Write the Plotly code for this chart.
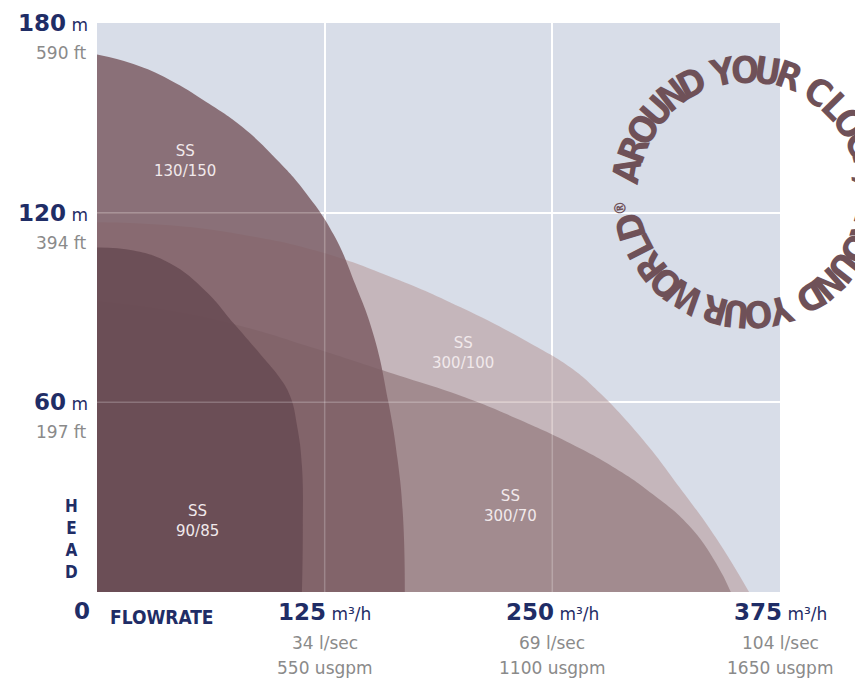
import math

import plotly.graph_objects as go

# Pump envelopes: flowrate in m3/h, head in m.
SS300_100_FLOW = [0, 40, 80, 120, 160, 200, 240, 260, 276, 300, 320, 340, 358]
SS300_100_HEAD = [117, 116, 113, 108, 100, 90, 78, 71, 63, 48, 33, 17, 0]

SS300_70_FLOW = [0, 40, 80, 120, 160, 200, 230, 260, 285, 305, 325, 340, 348]
SS300_70_HEAD = [92, 89, 84, 77, 69.5, 62, 55, 47, 39, 31, 21, 9, 0]

SS130_150_FLOW = [0, 20, 40, 60, 80, 100, 115, 130, 142, 152, 160, 165, 168, 169]
SS130_150_HEAD = [170, 167, 162, 155, 147, 136, 126, 113, 97, 81, 60, 42, 24, 0]

SS90_85_FLOW = [0, 20, 40, 60, 75, 90, 100, 106, 110, 112.5, 113, 112.5]
SS90_85_HEAD = [109, 108, 104, 95, 85, 75, 68, 62, 52, 40, 20, 0]

MODEL_LABELS = ["SS<br>300/100", "SS<br>300/70", "SS<br>130/150", "SS<br>90/85"]

HEAD_TICKS = [180, 120, 60]
HEAD_FT = ["590 ft", "394 ft", "197 ft"]
FLOW_TICKS = [125, 250, 375]
FLOW_LSEC = ["34 l/sec", "69 l/sec", "104 l/sec"]
FLOW_USGPM = ["550 usgpm", "1100 usgpm", "1650 usgpm"]

GRID_X = [125, 250]
GRID_Y = [60, 120]

THEME = {
    "plot_bg": "#d8dde8",
    "navy": "#1f2d66",
    "grey": "#8a8a8a",
    "label": "#f1e9eb",
    "logo": "#6f5158",
    "fills": [
        "rgba(189,165,168,0.70)",   # SS 300/100
        "rgba(152,129,133,0.80)",   # SS 300/70
        "rgba(124,93,100,0.85)",    # SS 130/150
        "rgba(103,74,82,0.85)",     # SS 90/85
    ],
    "num_font": "DejaVu Sans, Liberation Sans, sans-serif",
    "narrow_font": "Liberation Sans Narrow, DejaVu Sans Condensed, Liberation Sans, sans-serif",
}

# label centres in data units (flow, head)
LABEL_POS = [(201, 75.6), (226.8, 27.2), (48.3, 136.4), (55, 22.5)]

# The page body keeps its default 8px margin, so the figure is sized to end
# at the window edge and the plot box is offset by that much.
OFF = 8
W, H = 855, 685
L, R, T, B = 89, 83, 15, 101
PW, PH = W - L - R, H - T - B

series = [
    (SS300_100_FLOW, SS300_100_HEAD),
    (SS300_70_FLOW, SS300_70_HEAD),
    (SS130_150_FLOW, SS130_150_HEAD),
    (SS90_85_FLOW, SS90_85_HEAD),
]

fig = go.Figure()
for (q, h), color in zip(series, THEME["fills"]):
    fig.add_trace(
        go.Scatter(
            x=q,
            y=h,
            mode="lines",
            line={"width": 0, "shape": "spline", "smoothing": 1.3},
            fill="tozeroy",
            fillcolor=color,
            hoverinfo="skip",
            showlegend=False,
        )
    )

annotations = []

for text, (qx, hy) in zip(MODEL_LABELS, LABEL_POS):
    annotations.append(
        dict(
            x=qx, y=hy, xref="x", yref="y", text=text, showarrow=False,
            font={"family": THEME["num_font"], "size": 15, "color": THEME["label"]},
            align="center",
        )
    )

# head labels on the left
for v, ft in zip(HEAD_TICKS, HEAD_FT):
    annotations.append(
        dict(
            x=0, y=v, xref="paper", yref="y", xanchor="right", yanchor="middle",
            xshift=-7, showarrow=False,
            text=f"<b>{v}</b><span style='font-size:17px'> m</span>",
            font={"family": THEME["num_font"], "size": 23, "color": THEME["navy"]},
        )
    )
    annotations.append(
        dict(
            x=0, y=v, xref="paper", yref="y", xanchor="right", yanchor="middle",
            xshift=-8, yshift=-30, showarrow=False, text=ft,
            font={"family": THEME["num_font"], "size": 17, "color": THEME["grey"]},
        )
    )

# flow labels underneath
for v, ls, gp in zip(FLOW_TICKS, FLOW_LSEC, FLOW_USGPM):
    annotations.append(
        dict(
            x=v, y=0, xref="x", yref="y", xanchor="center", yanchor="middle",
            yshift=-20, showarrow=False,
            text=f"<b>{v}</b><span style='font-size:17px'> m³/h</span>",
            font={"family": THEME["num_font"], "size": 23, "color": THEME["navy"]},
        )
    )
    annotations.append(
        dict(
            x=v, y=0, xref="x", yref="y", xanchor="center", yanchor="middle",
            yshift=-51, showarrow=False, text=ls,
            font={"family": THEME["num_font"], "size": 17, "color": THEME["grey"]},
        )
    )
    annotations.append(
        dict(
            x=v, y=0, xref="x", yref="y", xanchor="center", yanchor="middle",
            yshift=-76, showarrow=False, text=gp,
            font={"family": THEME["num_font"], "size": 17, "color": THEME["grey"]},
        )
    )

annotations += [
    dict(
        x=0, y=0, xref="paper", yref="y", xanchor="right", yanchor="middle",
        xshift=-5, yshift=-19, showarrow=False, text="<b>0</b>",
        font={"family": THEME["num_font"], "size": 23, "color": THEME["navy"]},
    ),
    dict(
        x=0, y=0, xref="paper", yref="y", xanchor="left", yanchor="middle",
        xshift=11, yshift=-25, showarrow=False, text="<b>FLOWRATE</b>",
        font={"family": THEME["narrow_font"], "size": 19, "color": THEME["navy"]},
    ),
    dict(
        x=0, y=0, xref="paper", yref="y", xanchor="right", yanchor="bottom",
        xshift=-17, yshift=8, showarrow=False, text="<b>H<br>E<br>A<br>D</b>",
        font={"family": THEME["narrow_font"], "size": 17, "color": THEME["navy"]},
    ),
]

# "Around your clock" roundel, one rotated glyph per character (page pixels)
LOGO_TEXT = "AROUND YOUR CLOCK, AROUND YOUR WORLD\u00ae"
cx, cy, rad = 748, 192, 122
step = {" ": 5.0, ",": 4.0, "\u00ae": 8.0}
theta = 274.75
for ch in LOGO_TEXT:
    w = step.get(ch, 10.5)
    mid = theta + w / 2
    theta += w
    if ch == " ":
        continue
    rr = rad + (7 if ch == "\u00ae" else 0)
    a = math.radians(mid)
    px = cx + rr * math.sin(a)
    py = cy - rr * math.cos(a)
    ang = (mid + 180) % 360 - 180
    annotations.append(
        dict(
            x=(px - OFF - L) / PW, y=(OFF + H - B - py) / PH, xref="paper", yref="paper",
            xanchor="center", yanchor="middle", showarrow=False,
            text=f"<b>{ch}</b>", textangle=ang,
            font={"family": THEME["narrow_font"], "size": 16 if ch == "\u00ae" else 37,
                  "color": THEME["logo"]},
        )
    )

shapes = []
for gx in GRID_X:
    shapes.append(dict(type="line", xref="x", yref="y", x0=gx, x1=gx, y0=0, y1=180,
                       line={"color": "rgba(255,255,255,0.22)", "width": 1.5}, layer="above"))
for gy in GRID_Y:
    shapes.append(dict(type="line", xref="x", yref="y", x0=0, x1=375, y0=gy, y1=gy,
                       line={"color": "rgba(255,255,255,0.22)", "width": 1.5}, layer="above"))

fig.update_layout(
    width=W,
    height=H,
    margin={"l": L, "r": R, "t": T, "b": B},
    paper_bgcolor="#ffffff",
    plot_bgcolor=THEME["plot_bg"],
    xaxis={
        "range": [0, 375], "tickvals": GRID_X, "showticklabels": False,
        "showgrid": True, "gridcolor": "#ffffff", "gridwidth": 2,
        "zeroline": False, "showline": False, "ticks": "",
    },
    yaxis={
        "range": [0, 180], "tickvals": GRID_Y, "showticklabels": False,
        "showgrid": True, "gridcolor": "#ffffff", "gridwidth": 2,
        "zeroline": False, "showline": False, "ticks": "",
    },
    annotations=annotations,
    shapes=shapes,
    showlegend=False,
)

fig.write_html("out.html")
